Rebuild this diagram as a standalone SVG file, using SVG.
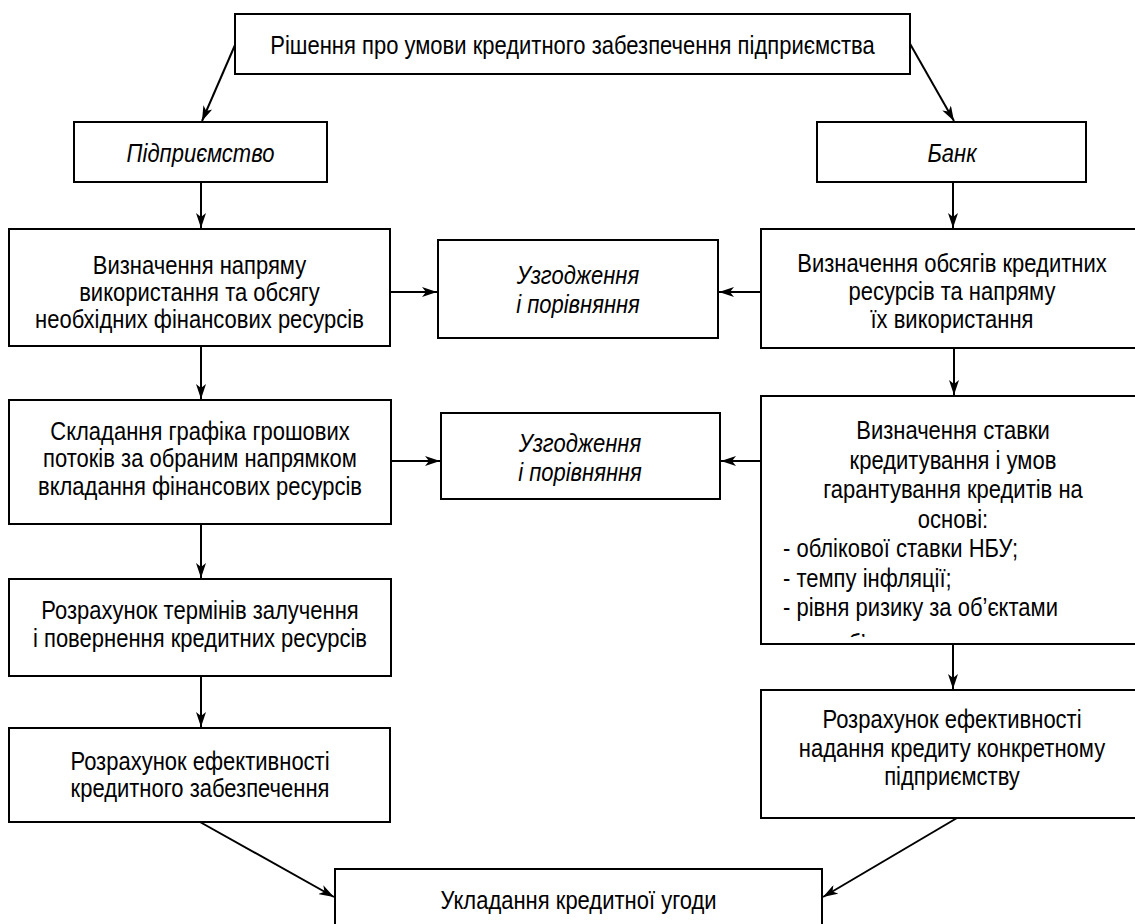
<svg xmlns="http://www.w3.org/2000/svg" width="1135" height="924" viewBox="0 0 1135 924">
<style>
.box{fill:#fff;stroke:#000;stroke-width:2}
.t{font-family:"Liberation Sans",Arial,sans-serif;font-size:26px;fill:#000;text-anchor:middle}
.l{text-anchor:start}
.i{font-style:italic}
.c line{stroke:#000;stroke-width:2;marker-end:url(#ah)}
</style>
<defs>
<marker id="ah" markerUnits="userSpaceOnUse" markerWidth="16" markerHeight="10" refX="15" refY="5" orient="auto">
<path d="M0,0 L15,5 L0,10 L4,5 z" fill="#000"/>
</marker>
<clipPath id="cb2"><rect x="762" y="397" width="380" height="240"/></clipPath>
</defs>
<rect width="1135" height="924" fill="#fff"/>
<g class="c" id="connectors">
<line x1="235" y1="45" x2="202" y2="121"/>
<line x1="909" y1="42" x2="954" y2="121"/>
<line x1="201" y1="182" x2="201" y2="228"/>
<line x1="953" y1="182" x2="953" y2="228"/>
<line x1="390" y1="292" x2="437" y2="292"/>
<line x1="761" y1="292" x2="719" y2="292"/>
<line x1="201" y1="346" x2="201" y2="399"/>
<line x1="954" y1="348" x2="954" y2="395"/>
<line x1="391" y1="461" x2="440" y2="461"/>
<line x1="761" y1="461" x2="721" y2="461"/>
<line x1="201" y1="524" x2="201" y2="578"/>
<line x1="953" y1="644" x2="953" y2="689"/>
<line x1="201" y1="676" x2="201" y2="727"/>
<line x1="200" y1="822" x2="334" y2="897"/>
<line x1="957" y1="818" x2="823" y2="897"/>
</g>
<g id="top"><rect class="box" x="235" y="14" width="675" height="60"/>
<text class="t" transform="translate(572.5,54) scale(0.846,1)">Рішення про умови кредитного забезпечення підприємства</text></g>
<g id="enterprise"><rect class="box" x="74" y="122" width="253" height="60"/>
<text class="t i" transform="translate(200.5,162) scale(0.846,1)">Підприємство</text></g>
<g id="bank"><rect class="box" x="817" y="122" width="269" height="60"/>
<text class="t i" transform="translate(952,162) scale(0.846,1)">Банк</text></g>
<g id="left2"><rect class="box" x="9" y="229" width="381" height="117"/>
<text class="t" transform="translate(199.5,274) scale(0.846,1)">Визначення напряму</text>
<text class="t" transform="translate(199.5,301) scale(0.846,1)">використання та обсягу</text>
<text class="t" transform="translate(199.5,328) scale(0.846,1)">необхідних фінансових ресурсів</text></g>
<g id="agree1"><rect class="box" x="438" y="240" width="280" height="98"/>
<text class="t i" transform="translate(578,284) scale(0.846,1)">Узгодження</text>
<text class="t i" transform="translate(578,313) scale(0.846,1)">і порівняння</text></g>
<g id="right1"><rect class="box" x="761" y="229" width="382" height="119"/>
<text class="t" transform="translate(952,272) scale(0.846,1)">Визначення обсягів кредитних</text>
<text class="t" transform="translate(952,300) scale(0.846,1)">ресурсів та напряму</text>
<text class="t" transform="translate(952,328) scale(0.846,1)">їх використання</text></g>
<g id="left3"><rect class="box" x="9" y="400" width="382" height="124"/>
<text class="t" transform="translate(200,440) scale(0.846,1)">Складання графіка грошових</text>
<text class="t" transform="translate(200,467) scale(0.846,1)">потоків за обраним напрямком</text>
<text class="t" transform="translate(200,495) scale(0.846,1)">вкладання фінансових ресурсів</text></g>
<g id="agree2"><rect class="box" x="441" y="413" width="279" height="86"/>
<text class="t i" transform="translate(580,452) scale(0.846,1)">Узгодження</text>
<text class="t i" transform="translate(580,481) scale(0.846,1)">і порівняння</text></g>
<g id="right2"><rect class="box" x="761" y="396" width="382" height="248"/>
<g clip-path="url(#cb2)">
<text class="t" transform="translate(953,439) scale(0.846,1)">Визначення ставки</text>
<text class="t" transform="translate(953,468.5) scale(0.846,1)">кредитування і умов</text>
<text class="t" transform="translate(953,498) scale(0.846,1)">гарантування кредитів на</text>
<text class="t" transform="translate(953,527.5) scale(0.846,1)">основі:</text>
<text class="t l" transform="translate(783,557) scale(0.846,1)">- облікової ставки НБУ;</text>
<text class="t l" transform="translate(783,586.5) scale(0.846,1)">- темпу інфляції;</text>
<text class="t l" transform="translate(783,616) scale(0.846,1)">- рівня ризику за об’єктами</text>
<text class="t l" transform="translate(826,652) scale(0.846,1)">суб’єктами</text>
</g></g>
<g id="left4"><rect class="box" x="9" y="579" width="382" height="97"/>
<text class="t" transform="translate(200,619) scale(0.846,1)">Розрахунок термінів залучення</text>
<text class="t" transform="translate(200,647) scale(0.846,1)">і повернення кредитних ресурсів</text></g>
<g id="left5"><rect class="box" x="9" y="728" width="381" height="94"/>
<text class="t" transform="translate(200,770) scale(0.846,1)">Розрахунок ефективності</text>
<text class="t" transform="translate(200,797) scale(0.846,1)">кредитного забезпечення</text></g>
<g id="right3"><rect class="box" x="761" y="690" width="382" height="128"/>
<text class="t" transform="translate(952,728) scale(0.846,1)">Розрахунок ефективності</text>
<text class="t" transform="translate(952,757) scale(0.846,1)">надання кредиту конкретному</text>
<text class="t" transform="translate(952,785) scale(0.846,1)">підприємству</text></g>
<g id="bottom"><rect class="box" x="335" y="869" width="487" height="70"/>
<text class="t" transform="translate(578.5,909) scale(0.846,1)">Укладання кредитної угоди</text></g>
</svg>
